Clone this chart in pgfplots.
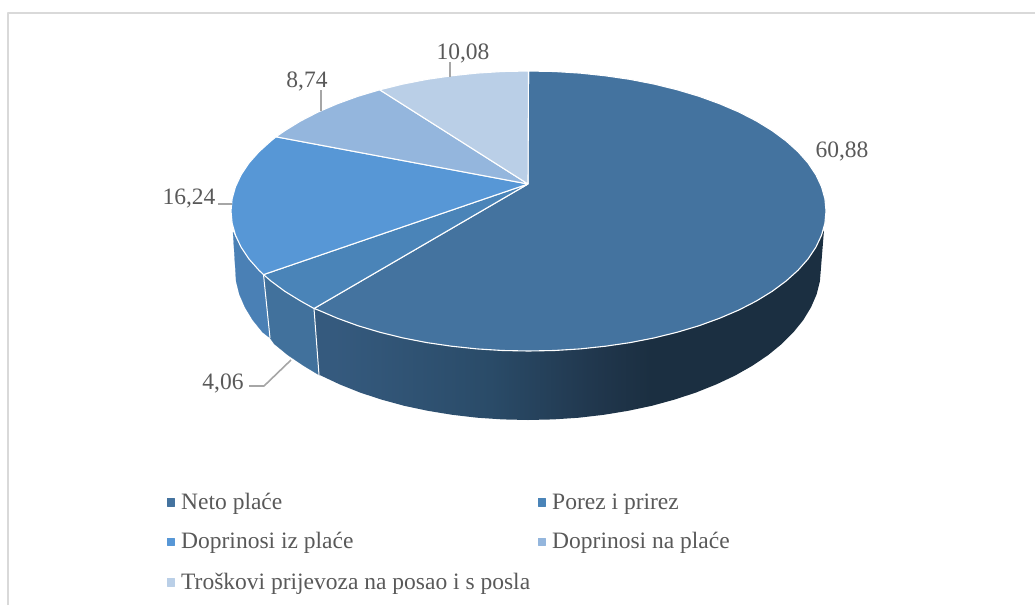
\documentclass[border=0pt]{standalone}
\usepackage{fontspec}
\setmainfont{Liberation Serif}
\usepackage{pgfplots}
\pgfplotsset{compat=1.18}

\definecolor{neto}{HTML}{44739F}
\definecolor{porez}{HTML}{4A84B8}
\definecolor{izpl}{HTML}{5797D6}
\definecolor{napl}{HTML}{94B6DD}
\definecolor{tros}{HTML}{BACFE7}
\definecolor{sideporez}{HTML}{41719C}
\definecolor{sideizpl}{HTML}{4A80B5}
\definecolor{txt}{HTML}{595959}
\definecolor{frame}{HTML}{D9D9D9}
\definecolor{leader}{HTML}{A6A6A6}
\definecolor{g1}{RGB}{53,90,126}
\definecolor{g2}{RGB}{42,75,104}
\definecolor{g3}{RGB}{32,54,76}
\definecolor{g4}{RGB}{27,47,65}

% side of the large slice, darker to the right (25bp..75bp spans the path)
\pgfdeclarehorizontalshading{netoside}{100bp}{
  color(0bp)=(g1); color(27bp)=(g1); color(42.3bp)=(g2);
  color(53bp)=(g3); color(58bp)=(g4); color(100bp)=(g4)}

\tikzset{lab/.style={txt, font=\fontsize{23.5}{27}\selectfont},
         leg/.style={lab, anchor=base west, inner sep=0pt}}

\begin{document}
\begin{tikzpicture}
\path[use as bounding box] (0,0) rectangle (1035pt,605pt);
\begin{axis}[
  at={(0,0)}, anchor=south west,
  width=1035pt, height=605pt, scale only axis,
  xmin=0, xmax=1035, ymin=0, ymax=605,
  y dir=reverse,
  hide axis, clip=false,
  every axis plot/.append style={line join=round},
]

% frame
\addplot[frame, line width=2pt] coordinates {(8,605) (8,13) (1035,13)};

% side, Doprinosi iz place
\addplot[fill=sideizpl, draw=sideizpl, line width=0.2pt] coordinates {
(233,232) (235.5,237) (241.1,247.2) (248.9,258.9) (258.9,270.2) (263.5,274.6)
(270,338) (262.5,332.2) (252.7,320) (245,307.3) (239.4,294.4) (236.1,281.2) (233,232)};
% side, Porez i prirez
\addplot[fill=sideporez, draw=sideporez, line width=0.2pt] coordinates {
(263.5,274.6) (270.9,281) (284.8,291.3) (300.6,301) (314,308.5)
(319,375) (303.6,365.7) (288,355.2) (274.3,344) (270,338) (263.5,274.6)};
% side, Neto place
\addplot[shading=netoside, draw=none] coordinates {
(314,308.5) (337.3,318.2) (357.9,325.7) (379.7,332.2) (402.8,337.9) (426.8,342.6) (451.5,346.2)
(476.9,348.9) (502.6,350.5) (528.5,351) (554.4,350.5) (580.1,348.9) (605.5,346.2) (630.2,342.6)
(654.2,337.9) (677.3,332.2) (699.1,325.7) (719.7,318.2) (738.9,310) (756.4,301) (772.2,291.3)
(786.1,281) (798.1,270.2) (808.1,258.9) (815.9,247.2) (821.5,235.3) (824,230)
(819.9,281.2) (816.6,294.4) (811,307.3) (803.3,320) (793.5,332.2) (781.7,344) (768,355.2)
(752.4,365.7) (735.2,375.5) (716.3,384.4) (696.1,392.5) (674.5,399.6) (651.8,405.8) (628.2,410.8)
(603.8,414.8) (578.9,417.7) (553.5,419.4) (528,420) (502.5,419.4) (477.1,417.7) (452.2,414.8)
(427.8,410.8) (404.2,405.8) (381.5,399.6) (359.9,392.5) (339.7,384.4) (320.8,375.5) (319,375)
(314,308.5)};

% white separators on the side
\addplot[white, line width=1pt] coordinates {(263.5,274.6) (270,338)};
\addplot[white, line width=1pt] coordinates {(314,308.5) (319,375)};

% top face
\addplot[fill=neto, draw=white, line width=1.1pt] coordinates {
(528,184) (528.5,71) (554.4,71.5) (580.1,73.1) (605.5,75.8) (630.2,79.4) (654.2,84.1) (677.3,89.8)
(699.1,96.3) (719.7,103.8) (738.9,112) (756.4,121) (772.2,130.7) (786.1,141) (798.1,151.8)
(808.1,163.1) (815.9,174.8) (821.5,186.7) (824.9,198.8) (826,211) (824.9,223.2) (821.5,235.3)
(815.9,247.2) (808.1,258.9) (798.1,270.2) (786.1,281) (772.2,291.3) (756.4,301) (738.9,310)
(719.7,318.2) (699.1,325.7) (677.3,332.2) (654.2,337.9) (630.2,342.6) (605.5,346.2) (580.1,348.9)
(554.4,350.5) (528.5,351) (502.6,350.5) (476.9,348.9) (451.5,346.2) (426.8,342.6) (402.8,337.9)
(379.7,332.2) (357.9,325.7) (337.3,318.2) (318.1,310) (314,308.5) (528,184)};
\addplot[fill=porez, draw=white, line width=1.1pt] coordinates {
(528,184) (314,308.5) (300.6,301) (284.8,291.3) (270.9,281) (263.5,274.6) (528,184)};
\addplot[fill=izpl, draw=white, line width=1.1pt] coordinates {
(528,184) (263.5,274.6) (258.9,270.2) (248.9,258.9) (241.1,247.2) (235.5,235.3) (232.1,223.2)
(231,211) (232.1,198.8) (235.5,186.7) (241.1,174.8) (248.9,163.1) (258.9,151.8) (270.9,141)
(276,136.8) (528,184)};
\addplot[fill=napl, draw=white, line width=1.1pt] coordinates {
(528,184) (276,136.8) (284.8,130.7) (300.6,121) (318.1,112) (337.3,103.8) (357.9,96.3)
(379.7,89.8) (528,184)};
\addplot[fill=tros, draw=white, line width=1.1pt] coordinates {
(528,184) (379.7,89.8) (402.8,84.1) (426.8,79.4) (451.5,75.8) (476.9,73.1) (502.6,71.5)
(528.5,71) (528,184)};

% leader lines
\addplot[leader, line width=1.6pt] coordinates {(291,360) (264,386) (249,386)};
\addplot[leader, line width=1.6pt] coordinates {(218,204) (232,204)};
\addplot[leader, line width=1.6pt] coordinates {(321,90) (321,111)};
\addplot[leader, line width=1.6pt] coordinates {(450,62) (450,77)};

% value labels
\node[lab] at (axis cs:842,151) {60,88};
\node[lab] at (axis cs:463,53) {10,08};
\node[lab] at (axis cs:307,81) {8,74};
\node[lab] at (axis cs:189,199) {16,24};
\node[lab] at (axis cs:223,383) {4,06};

% legend
\addplot[only marks, mark=square*, mark size=3.7pt, mark options={draw=neto, fill=neto}] coordinates {(170.5,502)};
\addplot[only marks, mark=square*, mark size=3.7pt, mark options={draw=porez, fill=porez}] coordinates {(541.5,502)};
\addplot[only marks, mark=square*, mark size=3.7pt, mark options={draw=izpl, fill=izpl}] coordinates {(170.5,541.5)};
\addplot[only marks, mark=square*, mark size=3.7pt, mark options={draw=napl, fill=napl}] coordinates {(541.5,541.5)};
\addplot[only marks, mark=square*, mark size=3.7pt, mark options={draw=tros, fill=tros}] coordinates {(170.5,582)};
\node[leg] at (axis cs:181,509) {Neto plaće};
\node[leg] at (axis cs:552,509) {Porez i prirez};
\node[leg] at (axis cs:181,548.5) {Doprinosi iz plaće};
\node[leg] at (axis cs:552,548.5) {Doprinosi na plaće};
\node[leg] at (axis cs:181,589) {Troškovi prijevoza na posao i s posla};

\end{axis}
\end{tikzpicture}
\end{document}
